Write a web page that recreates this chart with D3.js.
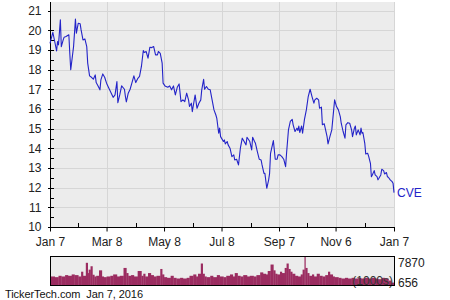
<!DOCTYPE html>
<html><head><meta charset="utf-8">
<script src="https://cdn.jsdelivr.net/npm/d3@7/dist/d3.min.js"></script>
<style>
html,body{margin:0;padding:0;background:#fff;}
svg{display:block;font-family:"Liberation Sans",Arial,sans-serif;}
</style></head>
<body>
<svg id="c" width="450" height="300"></svg>
<script>
// ---- data ----
const startDate = "2015-01-07";
const priceDays = [0,3,5,7,8,9,11,12,14,15,17,20,21,22,25,27,28,30,32,33,35,37,39,40,42,44,46,48,49,51,53,54,56,58,60,62,65,67,69,71,72,74,76,79,80,81,83,85,87,89,91,93,95,97,99,100,102,104,106,108,110,112,114,115,117,119,120,122,
125,127,129,131,133,135,137,139,141,143,145,147,148,150,151,152,154,156,158,160,161,163,164,166,168,170,172,174,176,177,179,180,181,184,185,186,188,189,191,193,195,196,198,200,202,204,206,208,209,211,212,214,215,217,218,220,222,224,225,227,228,230,232,233,234,237,239,241,242,244,246,248,
250,251,253,255,257,258,260,262,263,264,265,267,268,270,272,274,276,278,280,281,283,285,286,288,289,291,292,294,295,297,299,300,302,304,306,308,309,311,313,314,316,318,320,321,323,324,325,327,329,330,331,332,334,335,337,338,340,341,342,344,345,347,348,349,351,352,354,355,357,358,359,361,363,364,365];
const prices = [19.35,19.91,19.44,18.96,19.44,19.27,20.54,19.18,19.52,19.66,19.69,19.78,18.84,18.0,19.18,20.58,19.86,20.37,20.34,20.03,19.52,19.57,19.18,18.34,17.69,17.62,17.52,17.74,17.35,17.18,16.98,17.49,17.79,17.62,17.32,17.11,16.81,16.60,16.72,17.40,16.33,16.72,17.18,17.01,16.64,16.37,16.81,17.01,17.35,17.69,17.35,17.55,17.66,18.17,18.98,18.88,18.93,18.59,19.15,19.13,19.18,18.76,18.76,18.93,18.84,18.34,17.32,17.18,
17.11,17.18,16.98,17.18,16.72,17.11,17.28,16.38,16.47,16.38,16.81,16.47,16.13,16.30,15.87,16.16,16.72,16.04,16.30,16.47,16.98,17.52,17.01,17.15,17.01,16.98,16.47,15.96,15.70,15.53,14.77,15.03,14.60,14.35,14.43,14.23,14.35,14.18,14.01,13.58,13.67,13.41,13.45,13.16,14.01,14.52,14.35,14.18,14.57,14.43,14.35,13.92,14.57,14.35,14.26,13.84,13.45,13.41,13.16,12.73,12.73,11.97,12.40,12.73,13.75,14.40,13.45,13.45,13.67,13.67,13.58,13.45,
13.07,13.75,14.94,15.37,15.48,15.20,14.86,15.03,14.91,15.14,14.81,15.14,14.77,15.48,15.96,16.64,17.01,16.64,16.30,16.47,16.55,16.47,16.04,16.10,15.20,15.25,15.03,14.60,14.23,14.60,14.94,15.45,16.47,16.13,15.96,15.62,15.28,14.86,14.52,15.20,15.31,15.28,14.94,14.60,15.03,15.14,14.69,14.94,14.69,15.03,14.77,14.81,14.26,13.72,13.75,13.62,13.24,12.56,12.65,12.87,12.65,12.56,12.40,12.48,12.65,12.94,12.87,12.70,12.77,12.56,12.53,12.40,12.31,12.23,11.75];
const volDays = [1,5,9,12,16,19,23,26,30,33,35,38,40,41,43,45,47,49,52,55,57,60,64,67,71,74,78,81,83,86,89,93,97,99,101,104,107,110,113,117,119,121,124,128,131,134,138,141,145,148,152,155,157,160,162,164,166,170,173,177,180,184,187,191,194,196,199,202,205,209,212,216,219,223,226,229,231,234,237,239,241,244,246,249,251,253,255,257,260,263,266,268,270,271,273,275,278,280,283,286,289,292,295,297,300,302,306,309,313,316,320,323,327,330,334,338,341,345,348,352,355,359,362,365];
const volumes = [1850,2315,2130,2500,2315,2685,2500,2870,2685,2315,3610,2500,6020,3240,4170,5090,2780,2315,2500,3980,2315,2130,2315,2500,2870,2315,2500,4630,3240,2500,2685,2315,3800,2500,3055,2315,3240,2685,2315,2500,4350,2870,2130,1945,2500,1945,1760,1945,1760,1945,2500,2870,2315,3055,5830,3055,2315,2130,2500,2130,2685,2315,2130,2500,2870,2315,3240,2500,2315,2685,2315,2500,2315,2685,3425,3055,2870,3800,5555,3980,3055,2870,3610,3240,4630,5830,4350,3610,3055,2500,2315,2870,4170,7870,4630,3240,2500,2870,2315,3055,2500,2315,2685,3610,2870,2315,2130,1945,1760,1945,1760,1945,1760,1945,1760,1945,1760,1945,1760,1575,1945,1760,1200,656];
const majorTickDates = ["2015-01-07","2015-03-08","2015-05-08","2015-07-08","2015-09-07","2015-11-06","2016-01-07"];
const majorTickLabels = ["Jan 7","Mar 8","May 8","Jul 8","Sep 7","Nov 6","Jan 7"];
const minorTickDates = ["2015-02-06","2015-04-08","2015-06-08","2015-08-08","2015-10-07","2015-12-07"];
const yTicks = [10,11,12,13,14,15,16,17,18,19,20,21];
const volLabels = ["7870","656"];
const volMax = 7870;
const seriesName = "CVE";
const footer = "TickerTech.com  Jan 7, 2016";
const volUnit = "(1000s)";

// ---- drawing ----
const parse = d3.timeParse("%Y-%m-%d");
const t0 = parse(startDate);
const dayToDate = d => d3.timeDay.offset(t0, d);
const svg = d3.select("#c");
const L = 50, R = 394, T = 2, B = 227;
const x = d3.scaleTime().domain([parse("2015-01-07"), parse("2016-01-07")]).range([L, R]);
const y = d3.scaleLinear().domain([10, 21.45]).range([B, T]);

svg.append("rect").attr("x", L).attr("y", T).attr("width", R - L + 1).attr("height", B - T).attr("fill", "#ececec");

// gridlines
svg.append("g").selectAll("line").data(yTicks.slice(1)).join("line")
  .attr("x1", L).attr("x2", R + 1).attr("y1", d => Math.round(y(d)) + 0.5).attr("y2", d => Math.round(y(d)) + 0.5)
  .attr("stroke", "#d6d6d6").attr("stroke-width", 1);
svg.append("g").selectAll("line").data(majorTickDates.slice(1)).join("line")
  .attr("x1", d => Math.round(x(parse(d))) + 0.5).attr("x2", d => Math.round(x(parse(d))) + 0.5)
  .attr("y1", T).attr("y2", B).attr("stroke", "#d6d6d6").attr("stroke-width", 1);

// y axis
const yAxis = d3.axisLeft(y).tickValues(yTicks).tickSize(0).tickPadding(9).tickFormat(d3.format("d"));
const gy = svg.append("g").attr("transform", `translate(${L + 0.5},0)`).call(yAxis);
gy.select(".domain").attr("stroke", "#000").attr("d", `M0,${T}V${B}`);
gy.selectAll("text").attr("font-size", 12).attr("fill", "#222").attr("font-family", '"Liberation Sans",Arial,sans-serif');
const halfTicks = d3.range(20).map(i => 10.5 + i * 0.5).filter(v => v <= 21);
svg.append("g").selectAll("line").data(halfTicks).join("line")
  .attr("x1", L).attr("x2", L + 4).attr("y1", d => Math.round(y(d)) + 0.5).attr("y2", d => Math.round(y(d)) + 0.5)
  .attr("stroke", "#000");
svg.append("g").selectAll("line").data(yTicks).join("line")
  .attr("x1", L - 2).attr("x2", L).attr("y1", d => Math.round(y(d)) + 0.5).attr("y2", d => Math.round(y(d)) + 0.5)
  .attr("stroke", "#000");

// x axis
const xAxis = d3.axisBottom(x).tickValues(majorTickDates.map(parse)).tickSize(4).tickPadding(6)
  .tickFormat((d, i) => majorTickLabels[i]);
const gx = svg.append("g").attr("transform", `translate(0,${B + 0.5})`).call(xAxis);
gx.select(".domain").attr("stroke", "#000").attr("d", `M${L},0H${R + 1}`);
gx.selectAll("line").attr("stroke", "#000");
gx.selectAll("text").attr("font-size", 12).attr("fill", "#222").attr("font-family", '"Liberation Sans",Arial,sans-serif');
svg.append("g").selectAll("line").data(minorTickDates).join("line")
  .attr("x1", d => Math.round(x(parse(d))) + 0.5).attr("x2", d => Math.round(x(parse(d))) + 0.5)
  .attr("y1", B - 4).attr("y2", B).attr("stroke", "#000");

// price line
const line = d3.line().x((d, i) => x(dayToDate(priceDays[i]))).y(d => y(d));
svg.append("path").datum(prices).attr("d", line).attr("fill", "none")
  .attr("stroke", "#2323c8").attr("stroke-width", 1.1).attr("stroke-linejoin", "round");
svg.append("text").attr("x", R + 3).attr("y", y(prices[prices.length - 1]) + 4)
  .attr("font-size", 12).attr("fill", "#2323c8").text(seriesName);

// volume panel
const VT = 256, VB = 285;
const vy = d3.scaleLinear().domain([0, volMax]).range([VB, VT]);
svg.append("rect").attr("x", L).attr("y", VT).attr("width", R - L).attr("height", VB - VT).attr("fill", "#ececec");
svg.append("g").selectAll("rect").data(volumes).join("rect")
  .attr("x", (d, i) => x(dayToDate(i ? volDays[i - 1] : 0)))
  .attr("width", (d, i) => x(dayToDate(volDays[i])) - x(dayToDate(i ? volDays[i - 1] : 0)) + 0.3)
  .attr("y", d => vy(d)).attr("height", d => VB - vy(d)).attr("fill", "#9b2c60");
svg.append("text").attr("x", R - 1).attr("y", VB - 0.5).attr("text-anchor", "end")
  .attr("font-size", 12).attr("fill", "#333").text(volUnit);
svg.append("rect").attr("x", L + 0.5).attr("y", VT + 0.5).attr("width", R - L).attr("height", VB - VT)
  .attr("fill", "none").attr("stroke", "#000");
svg.append("text").attr("x", R + 4).attr("y", VT + 11).attr("font-size", 12).attr("fill", "#222").text(volLabels[0]);
svg.append("text").attr("x", R + 4).attr("y", VB + 2).attr("font-size", 12).attr("fill", "#222").text(volLabels[1]);

// footer
svg.append("text").attr("x", 5).attr("y", 297.5).attr("font-size", 11).attr("fill", "#111")
  .attr("textLength", 138).attr("lengthAdjust", "spacing")
  .style("white-space", "pre").text(footer);
</script>
</body></html>
